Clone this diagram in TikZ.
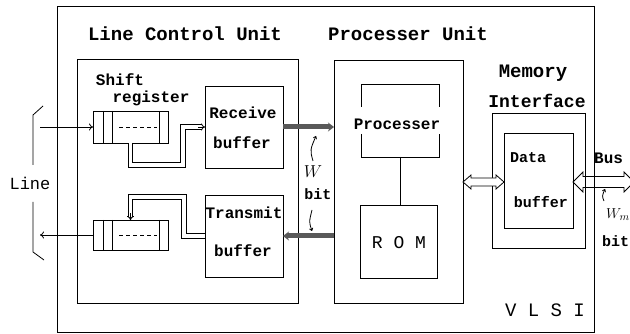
\documentclass[tikz,border=0pt]{standalone}
\usepackage{fontspec}
\newfontfamily\tfont{Liberation Mono}
\usetikzlibrary{arrows.meta,calc}
\begin{document}
\begin{tikzpicture}[x=1pt,y=-1pt,
  box/.style={draw, line width=0.9pt, inner sep=0pt, outer sep=0pt, anchor=north west},
  nobox/.style={inner sep=0pt, outer sep=0pt, anchor=north west},
  ttl/.style={inner sep=0pt, font=\tfont\bfseries\fontsize{19}{19}\selectfont},
  lbl/.style={inner sep=0pt, font=\tfont\bfseries\fontsize{16}{16}\selectfont},
  slbl/.style={inner sep=0pt, font=\tfont\bfseries\fontsize{15}{15}\selectfont},
  dbl/.style={double, double distance=3.5pt, line width=0.9pt},
  tipa/.style={-{To[length=4pt,width=7pt]}, line width=0.8pt},
  band/.style={line width=5pt, black!65, -{Stealth[length=6pt,width=9pt]}},
  thin/.style={line width=0.8pt}]
\useasboundingbox (0,0) rectangle (630,334);

% boxes
\node[box, minimum width=537pt, minimum height=326pt] (vlsi) at (57,6) {};
\node[box, minimum width=221pt, minimum height=244pt] (lcu) at (77,59) {};
\node[box, minimum width=129pt, minimum height=243pt] (pu) at (334,60) {};
\node[nobox, minimum width=78pt, minimum height=73pt] (proc) at (361,84) {};
\node[box, minimum width=77pt, minimum height=73pt] (rom) at (360,205) {};
\node[box, minimum width=93pt, minimum height=135pt] (mi) at (492,113) {};
\node[box, minimum width=69pt, minimum height=95pt] (db) at (504,133) {};
\node[box, minimum width=78pt, minimum height=82pt] (rb) at (205,86) {};
\node[box, minimum width=78pt, minimum height=82pt] (tb) at (205,195) {};
\node[box, minimum width=75pt, minimum height=32pt] (sra) at (93,111) {};
\node[box, minimum width=75pt, minimum height=30pt] (srb) at (93,220) {};

% processer box with gaps at the sides
\draw[thin] ($(proc.north west)+(0,23)$) -- (proc.north west) -- (proc.north east) -- ($(proc.north east)+(0,23)$);
\draw[thin] ($(proc.south west)+(0,-23)$) -- (proc.south west) -- (proc.south east) -- ($(proc.south east)+(0,-23)$);
\draw[thin] (proc.south) -- (proc.south |- rom.north);

% shift register cells
\foreach \s in {sra,srb}{
  \draw[thin] ($(\s.north west)+(10,0)$) -- ($(\s.south west)+(10,0)$);
  \draw[thin] ($(\s.north west)+(19,0)$) -- ($(\s.south west)+(19,0)$);
  \draw[thin] ($(\s.north east)+(-9,0)$) -- ($(\s.south east)+(-9,0)$);
  \draw[thin, dash pattern=on 4pt off 3pt] ($(\s.west)+(26,0)$) -- ($(\s.east)+(-11,0)$);
}

% texts
\node[ttl] (t1) at (185,34) {Line Control Unit};
\node[ttl] (t2) at (408,34) {Processer Unit};
\node[ttl] (t3) at (533,73) {Memory};
\node[ttl, font=\tfont\bfseries\fontsize{18}{18}\selectfont] (t4) at (537,101) {Interface};
\node[lbl] (t5) at (120,80) {Shift};
\node[lbl] (t6) at (151,98) {register};
\node[lbl] (t7) at (243,113) {Receive};
\node[lbl] (t8) at (242,143) {buffer};
\node[lbl] (t9) at (244,213) {Transmit};
\node[lbl] (t10) at (243,251) {buffer};
\node[lbl] (t11) at (397,124) {Processer};
\node[ttl, font=\tfont\fontsize{18}{18}\selectfont] (t12) at (399,243) {R O M};
\node[slbl] (t13) at (528,158) {Data};
\node[slbl] (t14) at (541,202) {buffer};
\node[ttl, font=\tfont\fontsize{19}{19}\selectfont] (t15) at (545,310) {V L S I};
\node[lbl, font=\tfont\fontsize{17}{17}\selectfont] (t16) at (30,183) {Line};
\node[inner sep=0pt, font=\fontsize{17}{17}\selectfont] (t17) at (313,172) {$W$};
\node[slbl] (t18) at (318,194) {bit};
\node[lbl, anchor=west] (t19) at (594,158) {Bus};
\node[inner sep=0pt, font=\fontsize{15}{15}\selectfont, anchor=west] (t20) at (606,215) {$W_m$};
\node[slbl, anchor=west] (t21) at (602,241) {bit};

% line bracket
\draw[thin] (43,106) -- (33,115) -- (33,165);
\draw[thin] (33,202) -- (33,252) -- (44,260);

% line in / out
\draw[tipa] (sra.west -| 40,0) -- (sra.west);
\draw[tipa] (srb.west) -- (srb.west -| 40,0);

% double-line paths
\draw[dbl] (sra.south) -- (sra.south |- 0,165) -- (183,165) -- (183,127) -- ($(rb.west)+(-3,0)$);
\draw[tipa] ($(rb.west)+(-7,0)$) -- (rb.west);
\draw[dbl] (tb.west) -- (184,236) -- (184,197) -- (srb.north |- 0,197) -- ($(srb.north)+(0,-3)$);
\draw[tipa] ($(srb.north)+(0,-7)$) -- (srb.north);

% W bit bands
\draw[band] (rb.east) -- (pu.west |- rb.east);
\draw[band] (pu.west |- tb.west) -- (tb.east);
\draw[-{To[length=3pt,width=4pt]}, thin] (313,161) .. controls (310,150) .. (316,136);
\draw[-{To[length=3pt,width=4pt]}, thin] (312,210) .. controls (309,222) .. (312,231);

% hollow two-way arrow processer unit <-> data buffer
\coordinate (a) at (pu.east |- 0,182);
\coordinate (b) at (db.west |- 0,182);
\draw[thin, fill=white] (a) -- ($(a)+(8,-7)$) -- ($(a)+(8,-4)$) -- ($(b)+(-8,-4)$) -- ($(b)+(-8,-7)$) -- (b)
  -- ($(b)+(-8,7)$) -- ($(b)+(-8,4)$) -- ($(a)+(8,4)$) -- ($(a)+(8,7)$) -- cycle;

% bus arrow
\coordinate (c) at (db.east |- 0,182);
\coordinate (d) at (634,182);
\draw[thin, fill=white] (c) -- ($(c)+(10,-10)$) -- ($(c)+(10,-5.5)$) -- ($(d)+(-10,-5.5)$) -- ($(d)+(-10,-10)$) -- (d)
  -- ($(d)+(-10,10)$) -- ($(d)+(-10,5.5)$) -- ($(c)+(10,5.5)$) -- ($(c)+(10,10)$) -- cycle;
\draw[thin] (mi.north east) -- (mi.south east);
\draw[thin] (vlsi.north east) -- (vlsi.south east);
\draw[-{To[length=3pt,width=4pt]}, thin] (604,201) .. controls (602,196) .. (605,189);
\end{tikzpicture}
\end{document}
